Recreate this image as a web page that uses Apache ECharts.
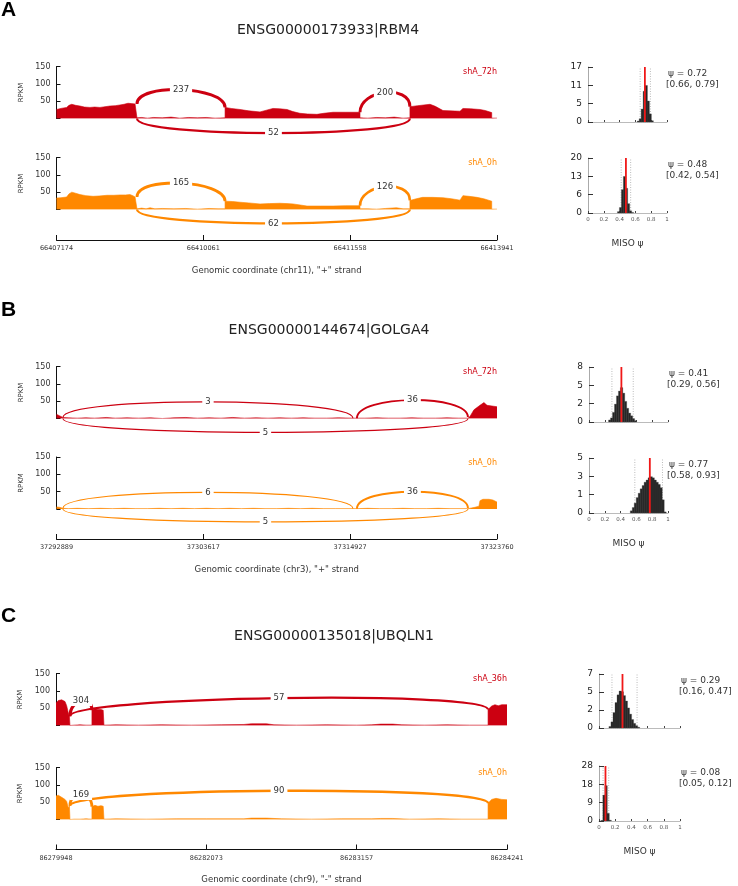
<!DOCTYPE html>
<html>
<head>
<meta charset="utf-8">
<script src="https://cdn.jsdelivr.net/npm/echarts@6/dist/echarts.min.js"></script>
<style>html,body{margin:0;padding:0;background:#fff}#main{width:738px;height:886px}</style>
</head>
<body>
<div id="main"></div>
<script>
// ---------------- DATA ----------------
const panelLetters = ['A', 'B', 'C'];
const geneTitles = ['ENSG00000173933|RBM4', 'ENSG00000144674|GOLGA4', 'ENSG00000135018|UBQLN1'];
const coordTicksA = ['66407174', '66410061', '66411558', '66413941'];
const coordTicksB = ['37292889', '37303617', '37314927', '37323760'];
const coordTicksC = ['86279948', '86282073', '86283157', '86284241'];
const axisTitles = ['Genomic coordinate (chr11), "+" strand', 'Genomic coordinate (chr3), "+" strand', 'Genomic coordinate (chr9), "-" strand'];
const sampleNames = [['shA_72h', 'shA_0h'], ['shA_72h', 'shA_0h'], ['shA_36h', 'shA_0h']];

// coverage (RPKM) along compressed plot coordinate 0..300
const covA1 = [[0,26],[3,29],[6.9,32],[8.5,38],[10.4,41],[13,38],[16,36],[19,33],[22.8,32],[26,33],[29.6,32],[33,34],[36.4,36],[40,37],[43.2,39],[46,41],[48.7,44],[51,43],[53.5,42],[54.8,42],
 [54.8,2],[58,3],[62,1],[66,3],[72,2],[78,4],[84,1],[90,3],[96,2],[102,3],[108,1],[114.8,2],
 [114.8,32],[119,29],[125,26],[131,22],[138.6,19],[143,24],[147.4,29],[152,28],[157,26],[161,20],[165.8,15],[171,13],[177.4,12],[182,15],[188.3,18],[197,18],[206.7,18],
 [206.7,2],[212,1],[218,3],[224,2],[230,4],[236,1],[240.7,2],
 [240.7,34],[246,37],[254.4,41],[258,35],[263.2,23],[268,22],[274.8,21],[276.8,29],[282,28],[288.4,26],[292,23],[296.4,17],
 [296.4,1],[300,1]];
const covA2 = [[0,33],[3,34],[6.9,36],[8.5,45],[10.4,50],[13,47],[16,43],[20,40],[24.9,38],[29,39],[34.4,41],[39,41],[43.2,42],[47,42],[50,43],[52,40],[53.5,36],[54.8,36],
 [54.8,2],[58,4],[61,2],[63.7,5],[67,2],[72,3],[80,2],[88,3],[96,1],[104,3],[110,2],[114.8,2],
 [114.8,24],[120,23],[125,21],[131,19],[138.6,16],[145,17],[152.2,18],[157,17],[161.2,16],[166,13],[170.6,10],[180,10],[188.3,10],[197,11],[206.7,11],
 [206.7,2],[212,2],[218,1],[224,3],[231.5,5],[236,2],[240.7,2],
 [240.7,26],[245,31],[249.3,35],[256,35],[263.2,34],[269,31],[274.8,27],[276.8,40],[281,38],[286.4,35],[291,31],[296.4,24],
 [296.4,1],[300,1]];
const covB1 = [[0,12],[2,8],[4.4,3],
 [4.4,1],[8,2],[14,1],[20,2],[26,1],[34,3],[40,1],[48,2],[56,1],[64,2],[72,0],[80,2],[88,3],[96,1],[104,2],[112,1],[120,3],[128,1],[136,2],[144,1],[152,2],[160,1],[168,2],[176,1],[184,1],[192,2],[201.9,1],[203.2,2],[204.6,1],[210,1],[218,2],[226,1],[234,1],[242,2],[250,1],[258,1],[266,2],[274,1],[280.2,1],
 [280.2,4],[281.6,6],[284.3,25],[288.4,38],[291.1,46],[293.2,38],[296.6,36],[300,34]];
const covB2 = [[0,6],[2,5],[4.4,2],
 [4.4,1],[8,1],[14,2],[22,1],[30,2],[38,1],[46,2],[54,1],[62,1],[70,2],[78,1],[86,2],[94,1],[102,2],[110,1],[118,2],[126,1],[134,2],[142,1],[150,1],[158,2],[166,1],[174,2],[182,1],[190,1],[201.9,1],[203.2,2],[204.6,1],[212,2],[220,1],[228,1],[236,2],[244,1],[252,1],[260,2],[268,1],[280.2,1],
 [280.2,3],[285,5],[287.7,8],[288.4,24],[290.4,28],[294.5,28],[297.2,26],[300,20]];
const covC1 = [[0,65],[1.5,72],[3.8,74],[6,69],[7.1,57],[8.2,36],[8.9,27],[9.3,27],
 [9.3,0],[12,1],[16,2],[20,1],[23.9,1],
 [23.9,44],[25.9,48],[27.9,46],[29.9,46],[31.4,44],[31.9,44],
 [31.9,1],[40,2],[55,1],[70,2],[90,1],[110,2],[125,3],[130,5],[140,5],[145,2],[160,1],[180,2],[200,1],[210,2],[216,4],[224,4],[230,2],[245,1],[260,2],[275,1],[287.4,1],
 [287.4,46],[289.8,56],[292,60],[294.2,57],[296.5,60],[300,60]];
const covC2 = [[0,68],[1.5,70],[3.8,64],[6,58],[7.1,52],[8.2,33],[8.9,40],[9.3,40],
 [9.3,0],[12,1],[16,1],[20,2],[23.9,1],
 [23.9,37],[25.9,41],[27.9,38],[29.9,40],[31.4,38],[31.9,38],
 [31.9,1],[40,2],[60,1],[80,2],[100,2],[125,2],[130,4],[140,4],[150,2],[170,1],[190,2],[210,2],[216,3],[224,3],[235,1],[255,2],[270,1],[287.4,1],
 [287.4,47],[289.8,58],[292.7,61],[296.5,58],[300,57]];

// junctions: [start, end, read count, arc apex in RPKM (negative = drawn below)]
const jxnA1 = [[54.8,114.8,237,83],[206.7,240.7,200,75],[54.8,240.7,52,-42]];
const jxnA2 = [[54.8,114.8,165,76],[206.7,240.7,126,66],[54.8,240.7,62,-40]];
const jxnB1 = [[4.4,201.9,3,48],[204.6,280.2,36,53],[4.4,280.2,5,-40]];
const jxnB2 = [[4.4,201.9,6,48],[204.6,280.2,36,50],[4.4,280.2,5,-37]];
const jxnC1 = [[9.3,23.9,304,72],[9.3,287.4,57,79]];
const jxnC2 = [[9.3,23.9,169,72],[9.3,287.4,90,83]];

// MISO posterior histograms: [bin left edge, height]
const BIN = 0.025;
const histA1 = [[0.625,0.3],[0.65,1],[0.675,4],[0.7,9.5],[0.725,11.3],[0.75,6.5],[0.775,2.5],[0.8,0.4]];
const histA2 = [[0.375,0.5],[0.4,2],[0.425,8.5],[0.45,13.3],[0.475,9],[0.5,3.4],[0.525,0.8],[0.55,0.2]];
const histB1 = [[0.25,0.3],[0.275,0.6],[0.3,1.4],[0.325,2.6],[0.35,3.8],[0.375,4.5],[0.4,5.0],[0.425,4.2],[0.45,3.0],[0.475,2.0],[0.5,1.3],[0.525,0.9],[0.55,0.5],[0.575,0.2]];
const histB2 = [[0.525,0.2],[0.55,0.5],[0.575,0.9],[0.6,1.4],[0.625,1.8],[0.65,2.2],[0.675,2.5],[0.7,2.8],[0.725,3.0],[0.75,3.2],[0.775,3.3],[0.8,3.2],[0.825,3.0],[0.85,2.8],[0.875,2.6],[0.9,2.3],[0.925,1.2],[0.95,0.1]];
const histC1 = [[0.125,0.2],[0.15,0.8],[0.175,2.0],[0.2,3.3],[0.225,4.3],[0.25,4.8],[0.275,4.7],[0.3,4.2],[0.325,3.5],[0.35,2.6],[0.375,1.8],[0.4,1.1],[0.425,0.6],[0.45,0.3],[0.475,0.1]];
const histC2 = [[0.025,0.3],[0.05,13.2],[0.075,18],[0.1,3.9],[0.125,0.4]];
// psi, CI low, CI high
const psiA1 = [0.72, 0.66, 0.79];
const psiA2 = [0.48, 0.42, 0.54];
const psiB1 = [0.41, 0.29, 0.56];
const psiB2 = [0.77, 0.58, 0.93];
const psiC1 = [0.29, 0.16, 0.47];
const psiC2 = [0.08, 0.05, 0.12];
const histYMax = [17, 20, 8, 5, 7, 28];
const histYTicks = [[0,5,11,17],[0,6,13,20],[0,2,5,8],[0,1,3,5],[0,2,5,7],[0,9,18,28]];
const trackYTicks = [50, 100, 150];
const histXTicks = ['0', '0.2', '0.4', '0.6', '0.8', '1'];

// ---------------- LAYOUT / STYLE ----------------
const FONT = 'DejaVu Sans';
const COLORS = ['#CC0011', '#FF8800'];
const panels = [
  { left: 56.5, width: 440.5, tracks: [66.5, 157.5], trackH: 52, axisY: 240, titleX: 328, titleY: 30, letterY: 10,
    cov: [covA1, covA2], jxn: [jxnA1, jxnA2], ticks: coordTicksA,
    hist: [{ left: 588, top: 67, w: 79, h: 55, data: histA1, psi: psiA1 }, { left: 588, top: 158, w: 79, h: 55, data: histA2, psi: psiA2 }] },
  { left: 56.5, width: 440.5, tracks: [366.5, 457], trackH: 52, axisY: 539, titleX: 329, titleY: 330, letterY: 310,
    cov: [covB1, covB2], jxn: [jxnB1, jxnB2], ticks: coordTicksB,
    hist: [{ left: 589, top: 367, w: 79, h: 55, data: histB1, psi: psiB1 }, { left: 589, top: 458, w: 79, h: 55, data: histB2, psi: psiB2 }] },
  { left: 56, width: 451, tracks: [673.5, 767.5], trackH: 52, axisY: 849.5, titleX: 334, titleY: 636, letterY: 616,
    cov: [covC1, covC2], jxn: [jxnC1, jxnC2], ticks: coordTicksC,
    hist: [{ left: 599, top: 674, w: 81, h: 54, data: histC1, psi: psiC1 }, { left: 599, top: 766, w: 81, h: 55, data: histC2, psi: psiC2 }] }
];

function edgeCov(cov, x) {
  let m = 0;
  cov.forEach(p => { if (Math.abs(p[0] - x) < 1e-6) m = Math.max(m, p[1]); });
  return m;
}

const grids = [], xAxes = [], yAxes = [], series = [], graphics = [];
let histIdx = 0;

panels.forEach((P, pi) => {
  graphics.push({ type: 'text', x: 1, y: P.letterY, style: { text: panelLetters[pi], font: 'bold 21px "Liberation Sans", Arial', fill: '#000', textAlign: 'left', textVerticalAlign: 'middle' } });
  graphics.push({ type: 'text', x: P.titleX, y: P.titleY, style: { text: geneTitles[pi], font: '14px "' + FONT + '"', fill: '#222', textAlign: 'center', textVerticalAlign: 'middle' } });

  // tracks
  P.tracks.forEach((top, ti) => {
    const gi = grids.length;
    const color = COLORS[ti];
    grids.push({ left: P.left, top: top, width: P.width, height: P.trackH });
    xAxes.push({ gridIndex: gi, type: 'value', min: 0, max: 300, show: false });
    yAxes.push({ gridIndex: gi, type: 'value', min: 0, max: 150, interval: 50,
      axisLine: { show: true, lineStyle: { color: '#111', width: 1 } },
      axisTick: { show: true, inside: true, length: 4, lineStyle: { color: '#111' } },
      axisLabel: { fontSize: 8, fontFamily: FONT, color: '#333', margin: 6, customValues: trackYTicks },
      splitLine: { show: false },
      name: 'RPKM', nameLocation: 'middle', nameGap: 31, nameTextStyle: { fontSize: 7, fontFamily: FONT, color: '#333' } });
    const cov = P.cov[ti];
    series.push({ type: 'line', xAxisIndex: gi, yAxisIndex: gi, data: cov, symbol: 'none', z: 2,
      lineStyle: { color: color, width: 0.6 }, areaStyle: { color: color, opacity: 1 }, silent: true });
    const jdata = P.jxn[ti].map(j => {
      const below = j[3] < 0;
      return [j[0], j[1], below ? 0 : edgeCov(cov, j[0]), below ? 0 : edgeCov(cov, j[1]), j[3], j[2]];
    });
    series.push({ type: 'custom', xAxisIndex: gi, yAxisIndex: gi, clip: false, z: 4, silent: true, data: jdata,
      renderItem: (params, api) => {
        const x1 = api.value(0), x2 = api.value(1), y1 = api.value(2), y2 = api.value(3), apex = api.value(4), cnt = api.value(5);
        const H = (apex - 0.5 * (y1 + y2)) / 0.75;
        const p0 = api.coord([x1, y1]), p1 = api.coord([x1, y1 + H]), p2 = api.coord([x2, y2 + H]), p3 = api.coord([x2, y2]);
        const mx = 0.125 * p0[0] + 0.375 * p1[0] + 0.375 * p2[0] + 0.125 * p3[0];
        const my = 0.125 * p0[1] + 0.375 * p1[1] + 0.375 * p2[1] + 0.125 * p3[1];
        const lw = Math.max(1.1, 0.55 * Math.log(cnt + 1));
        return { type: 'group', children: [
          { type: 'bezierCurve', shape: { x1: p0[0], y1: p0[1], x2: p3[0], y2: p3[1], cpx1: p1[0], cpy1: p1[1], cpx2: p2[0], cpy2: p2[1] },
            style: { stroke: color, fill: 'none', lineWidth: lw } },
          { type: 'text', x: mx, y: my, z2: 10, style: { text: String(cnt), fill: '#333', fontSize: 8.5, fontFamily: FONT,
            align: 'center', verticalAlign: 'middle', textAlign: 'center', textVerticalAlign: 'middle', backgroundColor: '#fff', padding: [1, 3] } }
        ] };
      } });
    graphics.push({ type: 'text', x: P.left + P.width, y: top + 5.5, style: { text: sampleNames[pi][ti], font: '8px "' + FONT + '"', fill: color, textAlign: 'right', textVerticalAlign: 'middle' } });
  });

  // genomic coordinate axis
  const ga = grids.length;
  grids.push({ left: P.left, top: P.axisY - 1, width: P.width, height: 1 });
  xAxes.push({ gridIndex: ga, type: 'value', min: 0, max: 300, interval: 100, position: 'bottom',
    axisLine: { show: true, onZero: false, lineStyle: { color: '#111', width: 1 } },
    axisTick: { show: true, inside: true, length: 5, lineStyle: { color: '#111' } },
    axisLabel: { fontSize: 6.5, fontFamily: FONT, color: '#333', margin: 5, formatter: v => P.ticks[Math.round(v / 100)] },
    splitLine: { show: false },
    name: axisTitles[pi], nameLocation: 'middle', nameGap: 26, nameTextStyle: { fontSize: 8.5, fontFamily: FONT, color: '#333' } });
  yAxes.push({ gridIndex: ga, type: 'value', show: false, min: 0, max: 1 });

  // histograms
  P.hist.forEach((Hh, hi) => {
    const gi = grids.length;
    const ymax = histYMax[histIdx];
    const ylabels = histYTicks[histIdx];
    const yvals = [0, ymax / 3, 2 * ymax / 3, ymax];
    const bottom = hi === 1;
    histIdx++;
    grids.push({ left: Hh.left, top: Hh.top, width: Hh.w, height: Hh.h });
    xAxes.push({ gridIndex: gi, type: 'value', min: 0, max: 1, interval: 0.2,
      axisLine: { show: true, lineStyle: { color: '#bbb', width: 1 } },
      axisTick: { show: true, inside: true, length: 2, lineStyle: { color: '#444' } },
      axisLabel: { show: bottom, fontSize: 5.5, fontFamily: FONT, color: '#555', margin: 4, formatter: v => histXTicks[Math.round(v * 5)] },
      splitLine: { show: false },
      name: bottom ? 'MISO ψ' : '', nameLocation: 'middle', nameGap: 26, nameTextStyle: { fontSize: 9, fontFamily: FONT, color: '#333' } });
    yAxes.push({ gridIndex: gi, type: 'value', min: 0, max: ymax,
      axisLine: { show: true, lineStyle: { color: '#aaa', width: 1 } },
      axisTick: { show: true, inside: true, length: 5, customValues: yvals, lineStyle: { color: '#333', width: 1 } },
      axisLabel: { fontSize: 9, fontFamily: FONT, color: '#222', margin: 6, customValues: yvals, formatter: v => String(ylabels[Math.round(v * 3 / ymax)]) },
      splitLine: { show: false } });
    // CI dotted lines
    series.push({ type: 'custom', xAxisIndex: gi, yAxisIndex: gi, z: 2, silent: true, data: [[Hh.psi[1]], [Hh.psi[2]]],
      renderItem: (params, api) => {
        const a = api.coord([api.value(0), 0]), b = api.coord([api.value(0), ymax]);
        return { type: 'line', shape: { x1: a[0], y1: a[1], x2: b[0], y2: b[1] }, style: { stroke: '#bbb', lineWidth: 1, lineDash: [1, 1.5] } };
      } });
    series.push({ type: 'custom', xAxisIndex: gi, yAxisIndex: gi, z: 3, silent: true, data: Hh.data,
      renderItem: (params, api) => {
        const a = api.coord([api.value(0), api.value(1)]), b = api.coord([api.value(0) + BIN, 0]);
        return { type: 'rect', shape: { x: a[0] - 0.2, y: a[1], width: b[0] - a[0] + 0.4, height: b[1] - a[1] }, style: { fill: '#252525', stroke: '#4a4a4a', lineWidth: 0.3 } };
      } });
    series.push({ type: 'custom', xAxisIndex: gi, yAxisIndex: gi, z: 5, silent: true, data: [[Hh.psi[0]]],
      renderItem: (params, api) => {
        const a = api.coord([api.value(0), 0]), b = api.coord([api.value(0), ymax]);
        return { type: 'line', shape: { x1: a[0], y1: a[1], x2: b[0], y2: b[1] }, style: { stroke: '#f01818', lineWidth: 1.8 } };
      } });
    const tx = Hh.left + Hh.w - 1;
    graphics.push({ type: 'text', x: tx + 2, y: Hh.top + 7, style: { text: 'ψ = ' + Hh.psi[0].toFixed(2), font: '9px "' + FONT + '"', fill: '#333', textAlign: 'left', textVerticalAlign: 'middle' } });
    graphics.push({ type: 'text', x: tx, y: Hh.top + 18, style: { text: '[' + Hh.psi[1].toFixed(2) + ', ' + Hh.psi[2].toFixed(2) + ']', font: '9px "' + FONT + '"', fill: '#333', textAlign: 'left', textVerticalAlign: 'middle' } });
  });
});

const chart = echarts.init(document.getElementById('main'), null, { renderer: 'canvas' });
chart.setOption({
  animation: false,
  backgroundColor: '#fff',
  textStyle: { fontFamily: FONT },
  grid: grids,
  xAxis: xAxes,
  yAxis: yAxes,
  series: series,
  graphic: { elements: graphics }
});
</script>
</body>
</html>
